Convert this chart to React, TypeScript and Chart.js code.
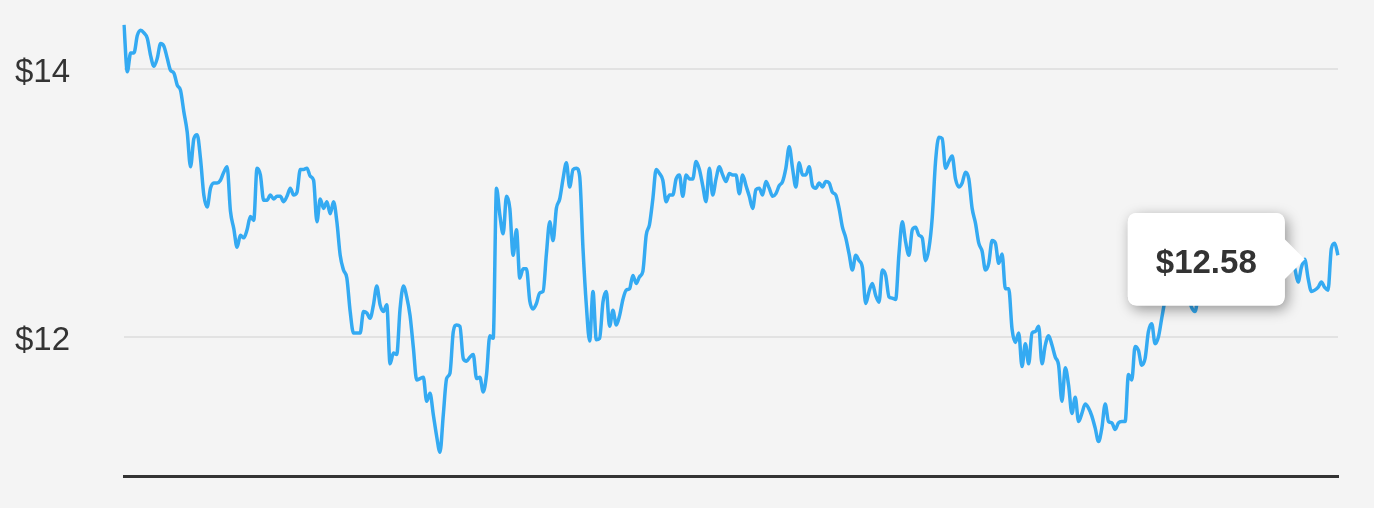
import React, { useEffect, useRef } from 'react';
import { Chart, registerables } from 'chart.js';

Chart.register(...registerables);

// Daily closing prices
const prices: number[] = [
  14.33, 13.98, 14.12, 14.12, 14.25, 14.29, 14.27, 14.23, 14.10, 14.02,
  14.08, 14.19, 14.17, 14.08, 13.99, 13.97, 13.88, 13.84, 13.68, 13.53,
  13.27, 13.48, 13.51, 13.33, 13.06, 12.97, 13.11, 13.15, 13.15, 13.17,
  13.23, 13.27, 12.94, 12.81, 12.67, 12.76, 12.74, 12.80, 12.90, 12.87,
  13.26, 13.21, 13.02, 13.02, 13.06, 13.03, 13.05, 13.05, 13.01, 13.05,
  13.11, 13.06, 13.08, 13.25, 13.25, 13.26, 13.20, 13.17, 12.86, 13.03,
  12.96, 13.01, 12.92, 13.01, 12.86,
  12.61, 12.50, 12.44, 12.19, 12.03, 12.03, 12.03, 12.19, 12.18, 12.14,
  12.24, 12.38, 12.24, 12.19, 12.24, 11.80, 11.88, 11.87, 12.21, 12.38,
  12.30, 12.16, 11.92, 11.68, 11.69, 11.70, 11.52, 11.58, 11.42, 11.26,
  11.14, 11.42, 11.69, 11.73, 12.04, 12.09, 12.08, 11.84, 11.82, 11.85,
  11.87, 11.69, 11.70, 11.59, 11.72, 12.01, 11.99,
  13.11, 12.91, 12.77, 13.05, 12.96, 12.61, 12.80, 12.44, 12.51, 12.51,
  12.27, 12.21, 12.25, 12.33, 12.34,
  12.62, 12.86, 12.72, 12.96, 13.03, 13.18, 13.30, 13.12, 13.25, 13.26,
  13.20, 12.66, 12.24, 11.97, 12.34, 11.98, 11.99, 12.26, 12.34, 12.08,
  12.20, 12.09, 12.16, 12.28, 12.35, 12.36, 12.46, 12.40, 12.45, 12.49,
  12.76, 12.84, 13.03, 13.25, 13.22, 13.17, 13.01, 13.06, 13.06, 13.18,
  13.21, 13.05, 13.21, 13.18, 13.18, 13.31, 13.25, 13.13, 13.01, 13.26,
  13.06, 13.18, 13.27, 13.21, 13.16, 13.22, 13.21, 13.21, 13.07,
  13.21, 13.13, 13.05, 12.96, 13.10, 13.11, 13.06, 13.16, 13.11, 13.05,
  13.07, 13.13, 13.16, 13.26, 13.42, 13.26, 13.12, 13.30, 13.21, 13.21,
  13.27, 13.13, 13.11, 13.15, 13.12, 13.16, 13.15, 13.08, 13.06, 12.96,
  12.82, 12.74, 12.62, 12.50, 12.61, 12.57, 12.52, 12.25, 12.34, 12.40,
  12.31, 12.26, 12.50, 12.46, 12.30, 12.29, 12.28, 12.62, 12.86, 12.71,
  12.61, 12.80, 12.82, 12.76, 12.74, 12.57, 12.66,
  12.89, 13.31, 13.49, 13.48, 13.26, 13.31, 13.35, 13.18, 13.12, 13.15,
  13.23, 13.18, 12.96, 12.85, 12.70, 12.64, 12.50, 12.55, 12.72, 12.70,
  12.55, 12.62, 12.36, 12.36, 12.06, 11.96, 12.03, 11.78, 11.95, 11.80,
  12.03, 12.04, 12.08, 11.80, 11.94, 12.01, 11.94, 11.85, 11.79, 11.52,
  11.77, 11.64, 11.43, 11.55, 11.37, 11.43, 11.50, 11.47, 11.41, 11.32,
  11.22, 11.32, 11.50, 11.37, 11.36, 11.31, 11.36, 11.37, 11.37, 11.72,
  11.68, 11.93, 11.90, 11.79, 11.84, 12.04, 12.10, 11.95, 12.00, 12.14,
  12.28, 12.42, 12.40, 12.55, 12.48, 12.42, 12.35, 12.30, 12.22, 12.19,
  12.32, 12.45, 12.52, 12.48, 12.60, 12.55, 12.50, 12.62, 12.66, 12.58,
  12.52, 12.60, 12.64, 12.55, 12.48, 12.56, 12.62, 12.58, 12.50, 12.54,
  12.61, 12.65, 12.57, 12.52, 12.55, 12.60, 12.56, 12.52, 12.55,
  12.51, 12.41, 12.52, 12.58, 12.44, 12.34, 12.35, 12.37, 12.41, 12.37,
  12.35, 12.66, 12.70, 12.61,
];

const days: string[] = prices.map((_, i) => `Day ${i + 1}`);
const yTickValues: number[] = [12, 14];
const yMin = 10.963;
const yMax = 14.5;
const tooltipIndex = prices.length - 11;

const FONT = '"Liberation Sans", Arial, Helvetica, sans-serif';

export default function App() {
  const ref = useRef<HTMLCanvasElement | null>(null);

  useEffect(() => {
    document.body.style.margin = '0';
    document.body.style.background = '#f4f4f4';
    if (!ref.current) return;

    const shadowPlugin = {
      id: 'tooltipShadow',
      beforeTooltipDraw(chart: any, args: any) {
        const t = args.tooltip;
        if (!t || !t.opacity) return;
        const ctx = chart.ctx;
        ctx.save();
        ctx.shadowColor = 'rgba(0,0,0,0.4)';
        ctx.shadowBlur = 14;
        ctx.shadowOffsetX = 3;
        ctx.shadowOffsetY = 4;
        ctx.fillStyle = '#ffffff';
        ctx.beginPath();
        (ctx as any).roundRect(t.x, t.y, t.width, t.height, 9);
        ctx.fill();
        ctx.restore();
      },
    };

    const chart = new Chart(ref.current, {
      type: 'line',
      data: {
        labels: days,
        datasets: [
          {
            data: prices,
            borderColor: '#34aaf2',
            borderWidth: 3.5,
            pointRadius: 0,
            pointHoverRadius: 0,
            fill: false,
            cubicInterpolationMode: 'monotone',
          },
        ],
      },
      options: {
        animation: false,
        responsive: true,
        maintainAspectRatio: false,
        events: [],
        layout: { padding: { top: 2, bottom: 32, left: 15, right: 36 } },
        scales: {
          x: {
            display: true,
            grid: { display: false },
            ticks: { display: false },
            border: { display: true, color: '#333333', width: 3 },
            afterFit: (s: any) => {
              s.height = 0;
              s.paddingLeft = 0;
              s.paddingRight = 0;
            },
          },
          y: {
            min: yMin,
            max: yMax,
            afterBuildTicks: (s: any) => {
              s.ticks = yTickValues.map((v) => ({ value: v }));
            },
            afterFit: (s: any) => {
              s.width = 109;
              s.paddingTop = 0;
              s.paddingBottom = 0;
            },
            grid: { color: '#e2e2e2', lineWidth: 2, drawTicks: false },
            border: { display: false },
            ticks: {
              crossAlign: 'far',
              labelOffset: 4,
              color: '#333333',
              font: { size: 33, family: FONT },
              callback: (v: any) => '$' + v,
            },
          },
        },
        plugins: {
          legend: { display: false },
          tooltip: {
            enabled: true,
            backgroundColor: '#ffffff',
            bodyColor: '#333333',
            bodyFont: { size: 33, weight: 'bold', family: FONT },
            displayColors: false,
            padding: { left: 28, right: 28, top: 31, bottom: 22 },
            cornerRadius: 9,
            caretSize: 20,
            caretPadding: 0,
            xAlign: 'right',
            yAlign: 'center',
            borderWidth: 0,
            callbacks: {
              title: () => [],
              label: (ctx: any) => '$' + ctx.parsed.y.toFixed(2),
            },
          },
        },
      },
      plugins: [shadowPlugin],
    } as any);

    chart.tooltip?.setActiveElements([{ datasetIndex: 0, index: tooltipIndex }], { x: 0, y: 0 });
    chart.update();

    return () => chart.destroy();
  }, []);

  return (
    <div style={{ width: 1374, height: 508, position: 'relative', background: '#f4f4f4' }}>
      <canvas ref={ref} />
    </div>
  );
}
